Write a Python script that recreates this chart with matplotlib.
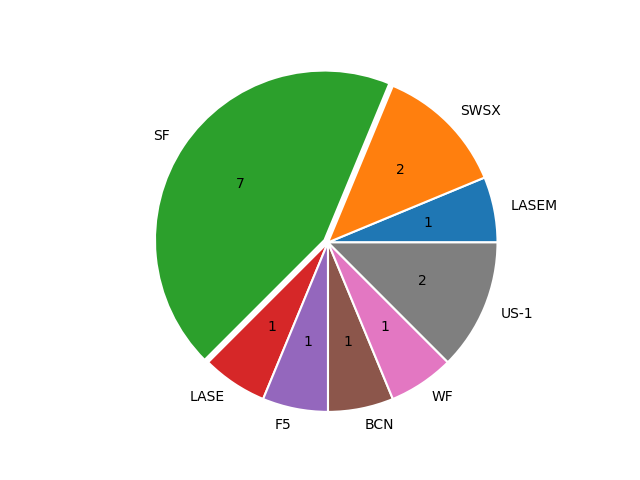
import matplotlib
matplotlib.use("Agg")
import matplotlib.pyplot as plt

labels = ["LASEM", "SWSX", "SF", "LASE", "F5", "BCN", "WF", "US-1"]
values = [1, 2, 7, 1, 1, 1, 1, 2]
explode = [0, 0, 0.025, 0, 0, 0, 0, 0]

total = sum(values)
fig, ax = plt.subplots(figsize=(6.4, 4.8), dpi=100)
ax.pie(values, labels=labels, explode=explode,
       autopct=lambda p: f"{round(p * total / 100)}",
       wedgeprops={"edgecolor": "white", "linewidth": 1.5})
lim = 184.8 / 169.5
ax.set_xlim(-lim, lim)
ax.set_ylim(-lim, lim)
fig.savefig("out.png")
